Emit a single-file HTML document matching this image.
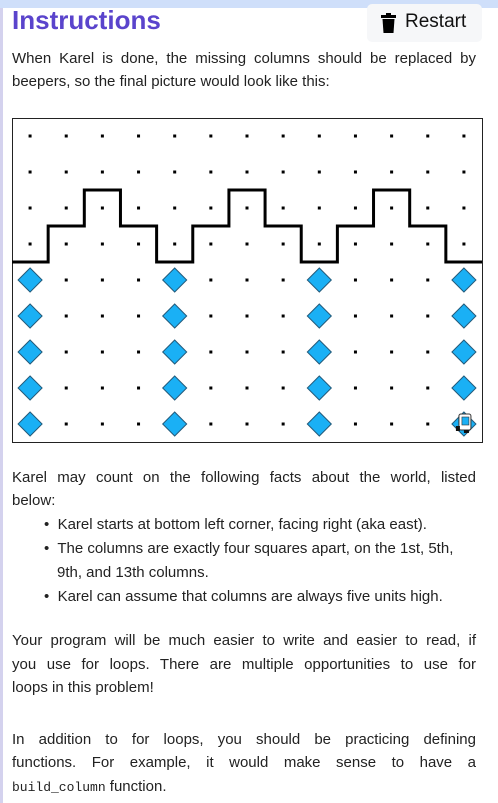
<!DOCTYPE html>
<html><head><meta charset="utf-8"><style>
body{margin:0;width:498px;height:803px;overflow:hidden;background:#fff;font-family:"Liberation Sans",sans-serif;color:#222;position:relative}
.t{position:absolute;font-size:15px;white-space:nowrap;line-height:18px}
.j{text-align:justify;text-align-last:justify;width:464px;left:12px}
.l{left:12px}
</style></head><body>
<div style="position:absolute;left:0;top:0;width:498px;height:8px;background:#cfdffa"></div>
<div style="position:absolute;left:0;top:8px;width:3px;height:795px;background:#d4d2ee"></div>
<div style="position:absolute;left:12px;top:5px;font-size:26px;font-weight:bold;color:#5a44cc">Instructions</div>
<div style="position:absolute;left:367px;top:4px;width:115px;height:38px;background:#f6f7f9;border-radius:5px">
<svg style="position:absolute;left:14px;top:9px" width="15" height="20" viewBox="0 0 15 20"><rect x="0" y="2" width="15" height="3" fill="#000"/><rect x="5" y="0" width="5" height="3" fill="#000"/><path d="M1.5 6 H13.5 L12.5 20 H2.5Z" fill="#000"/></svg>
<span style="position:absolute;left:38px;top:7px;font-size:19px;color:#111">Restart</span></div>
<div class="t j" style="top:50px">When Karel is done, the missing columns should be replaced by</div>
<div class="t l" style="top:73px">beepers, so the final picture would look like this:</div>
<svg id="w" style="position:absolute;left:0;top:0" width="498" height="460"></svg>
<div class="t j" style="top:469px">Karel may count on the following facts about the world, listed</div>
<div class="t l" style="top:492px">below:</div>
<div class="t" style="top:516px;left:44px">•&nbsp; Karel starts at bottom left corner, facing right (aka east).</div>
<div class="t" style="top:540px;left:44px">•&nbsp; The columns are exactly four squares apart, on the 1st, 5th,</div>
<div class="t" style="top:564px;left:57px">9th, and 13th columns.</div>
<div class="t" style="top:588px;left:44px">•&nbsp; Karel can assume that columns are always five units high.</div>
<div class="t j" style="top:632px">Your program will be much easier to write and easier to read, if</div>
<div class="t j" style="top:656px">you use for loops. There are multiple opportunities to use for</div>
<div class="t l" style="top:679px">loops in this problem!</div>
<div class="t j" style="top:731px">In addition to for loops, you should be practicing defining</div>
<div class="t j" style="top:754px">functions. For example, it would make sense to have a</div>
<div class="t l" style="top:778px"><span style="font-family:'Liberation Mono',monospace;font-size:13px">build_column</span> function.</div>
<script>
const cols=13, rows=9;
const beeperCols=[1,5,9,13];
const beeperHeight=5;
const wallHeights=[0,1,2,1,0,1,2,1,0,1,2,1,0]; // extra height above column top per column
const X0=12,Y0=118,CW=470/13,CH=36;
const ns="http://www.w3.org/2000/svg",svg=document.getElementById('w');
function cx(c){return X0+(c-0.5)*CW}
function cy(r){return Y0+(rows-r+0.5)*CH}
function mk(t,a){const e=document.createElementNS(ns,t);for(const k in a)e.setAttribute(k,a[k]);svg.appendChild(e);return e}
const b=mk('rect',{x:X0+.5,y:Y0+.5,width:470,height:324,fill:'none',stroke:'#222','stroke-width':1});


for(let c=1;c<=cols;c++)for(let r=1;r<=rows;r++){
  if(beeperCols.includes(c)&&r<=beeperHeight){
    const x=cx(c),y=cy(r),s=12;
    const d=mk('polygon',{points:`${x},${y-s} ${x+s},${y} ${x},${y+s} ${x-s},${y}`,fill:'#1ab0f5',stroke:'#235a7a','stroke-width':1});
    
    
  } else {
    const p=mk('rect',{x:cx(c)-1.5,y:cy(r)-1.5,width:3,height:3,fill:'#000'});
    
    
  }
}
let d='';
for(let i=0;i<cols;i++){
  const y=Y0+(rows-beeperHeight-wallHeights[i])*CH;
  const x1=X0+i*CW,x2=X0+(i+1)*CW;
  d+=(i===0?`M${x1},${y}`:`L${x1},${y}`)+` L${x2},${y}`;
}
const w=mk('path',{d:d,fill:'none',stroke:'#000','stroke-width':3});


const k=mk('g',{transform:`translate(${cx(13)},${cy(1)})`});


k.innerHTML='<polygon points="-9,0 0,-9 9,0 0,9" fill="#1ab0f5"/><rect x="-5" y="-10" width="12" height="16" rx="2" fill="#fff" stroke="#333"/><rect x="-2" y="-7" width="7" height="8" fill="#1ab0f5" stroke="#333" stroke-width=".6"/><rect x="-8" y="2" width="4" height="5" fill="#111"/><rect x="0" y="6" width="5" height="3" fill="#111"/>';
</script>
</body></html>
